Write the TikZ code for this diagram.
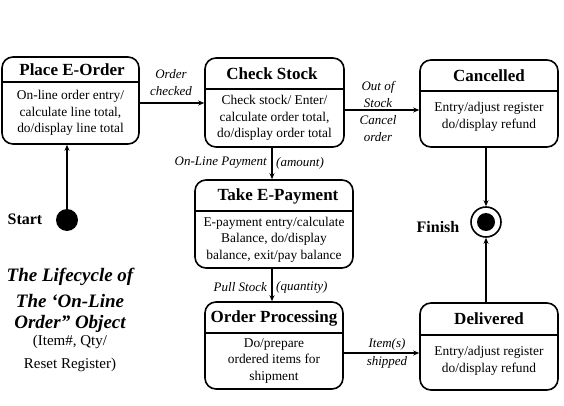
\documentclass[tikz,border=0pt]{standalone}
\usepackage{fontspec}
\setmainfont{Liberation Serif}
\usetikzlibrary{arrows.meta}
\tikzset{
  sbox/.style={draw, line width=1.6pt, rounded corners=11pt, fill=white, inner sep=0pt},
  sdiv/.style={line width=1.4pt},
  stitle/.style={font=\bfseries\fontsize{17}{20}\selectfont, inner sep=0pt},
  sbody/.style={font=\fontsize{13.4}{16.5}\selectfont, align=center, inner sep=0pt},
  lbl/.style={font=\itshape\fontsize{13}{17}\selectfont, align=center, inner sep=0pt},
  arr/.style={line width=1.3pt, -{Stealth[length=6pt,width=5pt]}},
  plain/.style={font=\bfseries\fontsize{16}{19}\selectfont, inner sep=0pt},
  ttl/.style={font=\bfseries\itshape\fontsize{19}{23}\selectfont, inner sep=0pt},
  sub/.style={font=\fontsize{15}{18}\selectfont, inner sep=0pt},
}
\begin{document}
\begin{tikzpicture}[x=1pt,y=-1pt]
\useasboundingbox (0,0) rectangle (564,406);

% Place E-Order
\node[sbox, minimum width=137pt, minimum height=87pt] (peo) at (70.5,100.5) {};
\draw[sdiv] (peo.west |- 0,82) -- (peo.east |- 0,82);
\node[stitle] (peot) at (72,69.5) {Place E-Order};
\node[sbody] (peob) at (70.5,113) {On-line order entry/\\calculate line total,\\do/display line total};

% Check Stock
\node[sbox, minimum width=139pt, minimum height=89pt] (cs) at (274.5,102.5) {};
\draw[sdiv] (cs.west |- 0,89) -- (cs.east |- 0,89);
\node[stitle] (cst) at (272,74) {Check Stock};
\node[sbody] (csb) at (274.5,118) {Check stock/ Enter/\\calculate order total,\\do/display order total};

% Cancelled
\node[sbox, minimum width=138pt, minimum height=87pt] (can) at (489,103.5) {};
\draw[sdiv] (can.west |- 0,91) -- (can.east |- 0,91);
\node[stitle] (cant) at (489,76) {Cancelled};
\node[sbody] (canb) at (489,117) {Entry/adjust register\\do/display refund};

% Take E-Payment
\node[sbox, minimum width=158pt, minimum height=88pt] (tep) at (274,224) {};
\draw[sdiv] (tep.west |- 0,211) -- (tep.east |- 0,211);
\node[stitle] (tept) at (278,196) {Take E-Payment};
\node[sbody] (tepb) at (274,239.5) {E-payment entry/calculate\\Balance, do/display\\balance, exit/pay balance};

% Order Processing
\node[sbox, minimum width=138pt, minimum height=87pt] (op) at (274,345.5) {};
\draw[sdiv] (op.west |- 0,333) -- (op.east |- 0,333);
\node[stitle] (opt) at (274,318) {Order Processing};
\node[sbody] (opb) at (274,361) {Do/prepare\\ordered items for\\shipment};

% Delivered
\node[sbox, minimum width=138pt, minimum height=87pt] (del) at (489,346.5) {};
\draw[sdiv] (del.west |- 0,335) -- (del.east |- 0,335);
\node[stitle] (delt) at (489,319) {Delivered};
\node[sbody] (delb) at (489,361) {Entry/adjust register\\do/display refund};

% Start and Finish
\node[circle, fill=black, minimum size=22pt, inner sep=0pt] (start) at (67,220) {};
\node[plain] (startl) at (25,219) {Start};
\node[circle, draw, line width=1.6pt, minimum size=30pt, inner sep=0pt] (fin) at (486,222) {};
\node[circle, fill=black, minimum size=18pt, inner sep=0pt] (finc) at (fin) {};
\node[plain] (finl) at (438,227) {Finish};

% Connectors
\draw[arr] (start) -- (start |- peo.south);
\draw[arr] (peo.east |- 0,103) -- (cs.west |- 0,103);
\draw[arr] (cs.east |- 0,110) -- (can.west |- 0,110);
\draw[arr] (cs.south -| 272,0) -- (tep.north -| 272,0);
\draw[arr] (tep.south -| 272,0) -- (op.north -| 272,0);
\draw[arr] (op.east |- 0,353) -- (del.west |- 0,353);
\draw[arr] (can.south -| fin) -- (fin.north);
\draw[arr] (del.north -| fin) -- (fin.south);

% Labels
\node[lbl] (l1) at (171,83) {Order\\checked};
\node[lbl] (l2) at (378,111) {Out of\\Stock\\Cancel\\order};
\node[lbl, anchor=east] (l3) at (267,163) {On-Line Payment};
\node[lbl, anchor=west] (l4) at (276,163) {(amount)};
\node[lbl, anchor=east] (l5) at (267,287) {Pull Stock};
\node[lbl, anchor=west] (l6) at (276,287) {(quantity)};
\node[lbl] (l7) at (387,344) {Item(s)};
\node[lbl] (l8) at (387,362) {shipped};

% Title
\node[ttl] (t1) at (70,277) {The Lifecycle of};
\node[ttl] (t2) at (70,301) {The ‘On-Line};
\node[ttl] (t3) at (70,324) {Order” Object};
\node[sub] (t4) at (70,342) {(Item\#, Qty/};
\node[sub] (t5) at (70,365) {Reset Register)};
\end{tikzpicture}
\end{document}
